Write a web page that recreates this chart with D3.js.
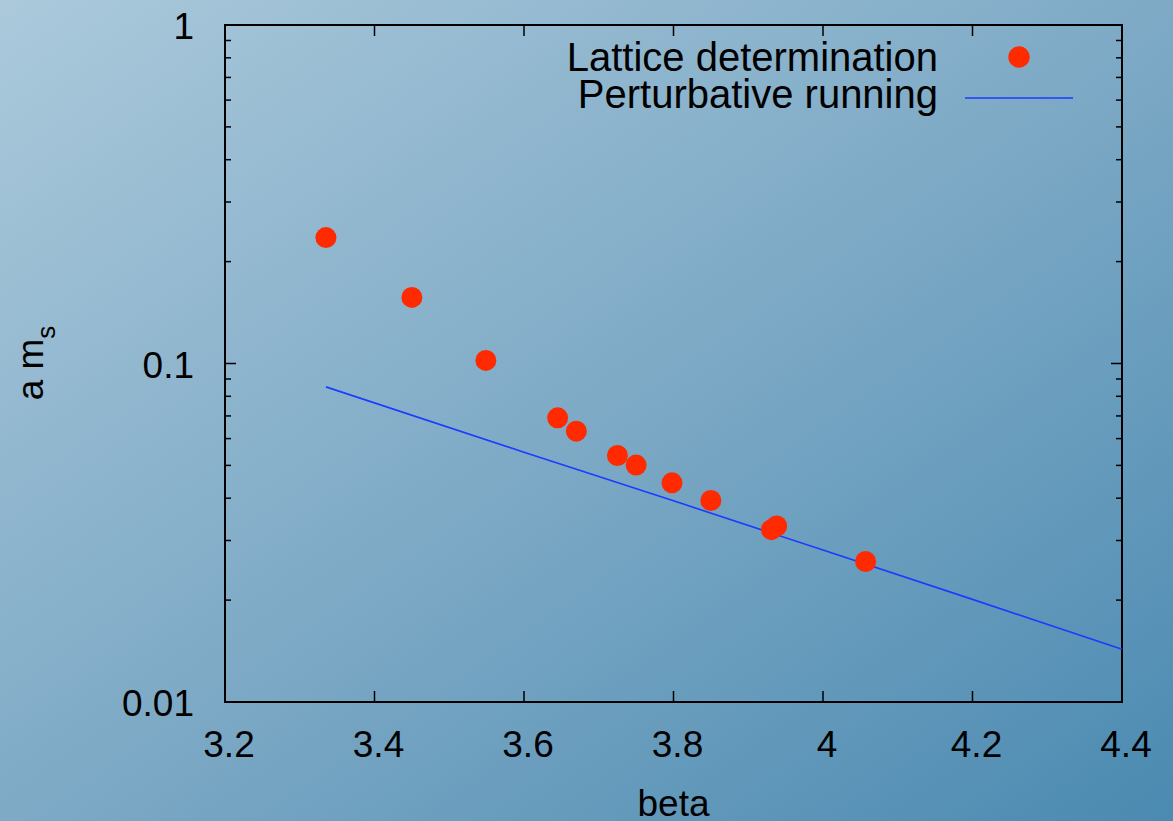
<!DOCTYPE html>
<html lang="en">
<head>
<meta charset="UTF-8">
<title>a m_s vs beta</title>
<script src="https://d3js.org/d3.v7.min.js"></script>
<style>
html,body{margin:0;padding:0;overflow:hidden}
body{width:1173px;height:821px}
svg{display:block;font-family:"Liberation Sans",Arial,Helvetica,sans-serif}
.tick-label{font-size:37px;fill:#000}
.legend-label{font-size:40px;fill:#000}
</style>
</head>
<body>
<svg id="chart" width="1173" height="821"></svg>
<script>
// ── Data ──
var latticeBeta = [3.335, 3.450, 3.549, 3.645, 3.670, 3.725, 3.750, 3.798, 3.850, 3.931, 3.938, 4.057];
var latticeAms  = [0.2355, 0.1568, 0.1021, 0.0691, 0.0631, 0.0535, 0.0501, 0.0444, 0.0394, 0.0323, 0.0331, 0.0260];

var runningBeta = [3.335, 3.6, 3.8, 4.0, 4.2, 4.4];
var runningAms  = [0.0853, 0.0547, 0.0393, 0.0281, 0.0201, 0.01431];

var xTicks = [3.2, 3.4, 3.6, 3.8, 4.0, 4.2, 4.4];
var xTickLabels = ['3.2', '3.4', '3.6', '3.8', '4', '4.2', '4.4'];
var yTicks = [0.01, 0.1, 1];
var yTickLabels = ['0.01', '0.1', '1'];

var seriesNames = ['Lattice determination', 'Perturbative running'];

// ── Layout ──
var W = 1173, H = 821;
var margin = { left: 225, right: 1122, top: 25, bottom: 702 };
var svg = d3.select('#chart');

// background gradient
var defs = svg.append('defs');
var grad = defs.append('linearGradient').attr('id', 'bg')
  .attr('x1', '0').attr('y1', '0').attr('x2', '1').attr('y2', '1');
grad.append('stop').attr('offset', '0%').attr('stop-color', '#abc9db');
grad.append('stop').attr('offset', '50%').attr('stop-color', '#7eaac6');
grad.append('stop').attr('offset', '100%').attr('stop-color', '#4b8ab1');
svg.append('rect').attr('width', W).attr('height', H).attr('fill', 'url(#bg)');

var x = d3.scaleLinear().domain([3.2, 4.4]).range([margin.left, margin.right]);
var y = d3.scaleLog().domain([0.01, 1]).range([margin.bottom, margin.top]);

var g = svg.append('g');

// minor ticks on log axis (2..9 per decade)
var minor = [];
[0.01, 0.1].forEach(function(dec) {
  for (var k = 2; k <= 9; k++) minor.push(dec * k);
});

var axisColor = '#000';
minor.forEach(function(v) {
  g.append('line').attr('x1', margin.left).attr('x2', margin.left + 6)
    .attr('y1', y(v)).attr('y2', y(v)).attr('stroke', axisColor).attr('stroke-width', 1.5);
  g.append('line').attr('x1', margin.right).attr('x2', margin.right - 6)
    .attr('y1', y(v)).attr('y2', y(v)).attr('stroke', axisColor).attr('stroke-width', 1.5);
});
yTicks.forEach(function(v, i) {
  g.append('line').attr('x1', margin.left).attr('x2', margin.left + 11)
    .attr('y1', y(v)).attr('y2', y(v)).attr('stroke', axisColor).attr('stroke-width', 1.5);
  g.append('line').attr('x1', margin.right).attr('x2', margin.right - 11)
    .attr('y1', y(v)).attr('y2', y(v)).attr('stroke', axisColor).attr('stroke-width', 1.5);
  g.append('text').attr('class', 'tick-label')
    .attr('x', margin.left - 31).attr('y', y(v) + 14)
    .attr('text-anchor', 'end').text(yTickLabels[i]);
});
xTicks.forEach(function(v, i) {
  g.append('line').attr('x1', x(v)).attr('x2', x(v))
    .attr('y1', margin.bottom).attr('y2', margin.bottom - 11).attr('stroke', axisColor).attr('stroke-width', 1.5);
  g.append('line').attr('x1', x(v)).attr('x2', x(v))
    .attr('y1', margin.top).attr('y2', margin.top + 11).attr('stroke', axisColor).attr('stroke-width', 1.5);
  g.append('text').attr('class', 'tick-label')
    .attr('x', x(v) + 4).attr('y', 757)
    .attr('text-anchor', 'middle').text(xTickLabels[i]);
});

// frame
g.append('rect').attr('x', margin.left).attr('y', margin.top)
  .attr('width', margin.right - margin.left).attr('height', margin.bottom - margin.top)
  .attr('fill', 'none').attr('stroke', axisColor).attr('stroke-width', 2);

// axis titles
svg.append('text').attr('class', 'tick-label')
  .attr('x', (margin.left + margin.right) / 2).attr('y', 816)
  .attr('text-anchor', 'middle').text('beta');

var yt = svg.append('text').attr('class', 'tick-label')
  .attr('transform', 'translate(43,' + 363 + ') rotate(-90)')
  .attr('text-anchor', 'middle');
yt.append('tspan').text('a m');
yt.append('tspan').attr('dy', 12).attr('font-size', 26).text('s');

// perturbative line
var line = d3.line().x(function(d) { return x(d[0]); }).y(function(d) { return y(d[1]); });
g.append('path')
  .datum(d3.zip(runningBeta, runningAms))
  .attr('d', line)
  .attr('fill', 'none').attr('stroke', '#1a3cff').attr('stroke-width', 1.6);

// lattice points
g.selectAll('circle.pt').data(d3.zip(latticeBeta, latticeAms)).join('circle')
  .attr('class', 'pt')
  .attr('cx', function(d) { return x(d[0]); })
  .attr('cy', function(d) { return y(d[1]); })
  .attr('r', 10.5).attr('fill', '#ff2a00');

// legend
var leg = svg.append('g');
leg.append('text').attr('class', 'legend-label').attr('x', 938).attr('y', 71)
  .attr('text-anchor', 'end').text(seriesNames[0]);
leg.append('circle').attr('cx', 1019).attr('cy', 57).attr('r', 10.7).attr('fill', '#ff2a00');
leg.append('text').attr('class', 'legend-label').attr('x', 938).attr('y', 108)
  .attr('text-anchor', 'end').text(seriesNames[1]);
leg.append('line').attr('x1', 965).attr('x2', 1073).attr('y1', 98).attr('y2', 98)
  .attr('stroke', '#1a3cff').attr('stroke-width', 1.6);
</script>
</body>
</html>
